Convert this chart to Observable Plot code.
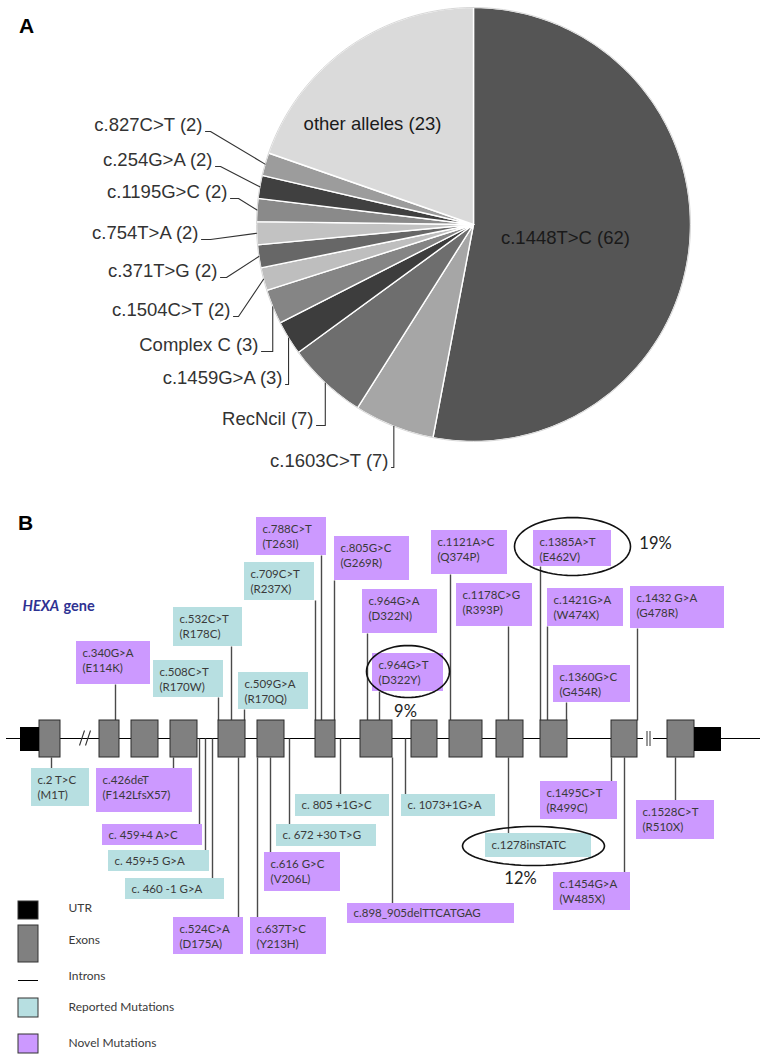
<!DOCTYPE html>
<html><head><meta charset="utf-8">
<script src="https://cdn.jsdelivr.net/npm/d3@7"></script>
<script src="https://cdn.jsdelivr.net/npm/@observablehq/plot@0.6"></script>
<style>body{margin:0;background:#fff} #chart svg{display:block}</style>
</head><body><div id="chart"></div>
<script>
// ---------------- Panel A data ----------------
const alleles = ["c.1448T>C", "c.1603C>T", "RecNcil", "c.1459G>A", "Complex C", "c.1504C>T",
  "c.371T>G", "c.754T>A", "c.1195G>C", "c.254G>A", "c.827C>T", "other alleles"];
const alleleCounts = [62, 7, 7, 3, 3, 2, 2, 2, 2, 2, 2, 23];
const sliceShades = ["#555555", "#a6a6a6", "#6e6e6e", "#3d3d3d", "#858585", "#bebebe",
  "#676767", "#c2c2c2", "#8a8a8a", "#404040", "#9c9c9c", "#dadada"];

// ---------------- Panel B data ----------------
const exonNumbers = [1, 2, 3, 4, 5, 6, 7, 8, 9, 10, 11, 12, 13, 14];
const mutCodes = ["c.340G>A", "c.508C>T", "c.532C>T", "c.509G>A", "c.709C>T", "c.788C>T", "c.805G>C",
  "c.964G>A", "c.964G>T", "c.1121A>C", "c.1178C>G", "c.1385A>T", "c.1421G>A", "c.1432 G>A", "c.1360G>C",
  "c.2 T>C", "c.426deT", "c. 459+4 A>C", "c. 459+5 G>A", "c. 460 -1 G>A", "c.524C>A", "c.637T>C",
  "c.616 G>C", "c. 672 +30 T>G", "c. 805 +1G>C", "c.898_905delTTCATGAG", "c. 1073+1G>A",
  "c.1278insTATC", "c.1495C>T", "c.1454G>A", "c.1528C>T"];
const mutProteins = ["(E114K)", "(R170W)", "(R178C)", "(R170Q)", "(R237X)", "(T263I)", "(G269R)",
  "(D322N)", "(D322Y)", "(Q374P)", "(R393P)", "(E462V)", "(W474X)", "(G478R)", "(G454R)",
  "(M1T)", "(F142LfsX57)", "", "", "", "(D175A)", "(Y213H)",
  "(V206L)", "", "", "", "", "", "(R499C)", "(W485X)", "(R510X)"];
const mutKinds = ["novel", "reported", "reported", "reported", "reported", "novel", "novel",
  "novel", "novel", "novel", "novel", "novel", "novel", "novel", "novel",
  "reported", "novel", "novel", "reported", "reported", "novel", "novel",
  "novel", "reported", "reported", "novel", "reported", "reported", "novel", "novel", "novel"];
const hotspotCodes = ["c.964G>T", "c.1385A>T", "c.1278insTATC"];
const hotspotShares = ["9%", "19%", "12%"];
const legendLabels = ["UTR", "Exons", "Introns", "Reported Mutations", "Novel Mutations"];

// ---------------- Layout (positions, sizes, styles) ----------------
const W = 762, H = 1059;
const PIE = {cx: 473, cy: 224, r: 217};
// [text right x, text centre y, elbow x (null = vertical to slice)]
const pieLabelLayout = [null, [388, 461, null], [313, 419, null], [282, 378, null], [258, 345, null],
  [230, 310, 238], [217, 271, 226], [198, 233, 210], [227, 192, 238], [212, 160, 220], [202, 125, 210], null];
const pieInnerLabelLayout = {0: [565, 238], 11: [372, 124]};

const GENE = {y: 738, top: 720, bottom: 757, x0: 6, x1: 760};
const exonSpans = [[39, 60], [99, 119], [131, 158], [170, 197], [218, 245], [257, 284], [315, 335],
  [360, 392], [411, 437], [449, 482], [496, 523], [540, 567], [611, 637], [667, 694]];
const utrSpans = [[20, 39], [694, 721]];
// [x1, y1, x2, y2, stem x]
const mutLayout = [
  [76, 641, 150, 684, 115], [153, 660, 223, 697, 218], [173, 607, 242, 646, 231], [238, 672, 308, 709, 244],
  [244, 562, 314, 600, 315], [256, 517, 326, 555, 321], [334, 536, 409, 580, 334], [362, 589, 437, 633, 367],
  [372, 653, 443, 691, 379], [431, 530, 507, 574, 450], [456, 583, 532, 626, 508], [533, 530, 611, 566, 540],
  [547, 588, 623, 626, 547], [630, 586, 724, 628, 637], [553, 665, 630, 702, 566],
  [31, 768, 89, 806, 51], [96, 768, 192, 812, 173], [102, 824, 202, 845, 199], [108, 850, 209, 871, 205],
  [125, 878, 224, 899, 212], [173, 917, 243, 954, 238], [250, 917, 326, 954, 257], [264, 852, 340, 891, 270],
  [276, 824, 376, 846, 289], [295, 794, 389, 816, 340], [347, 903, 514, 923, 392], [401, 794, 495, 816, 405],
  [485, 833, 591, 857, 508], [540, 781, 617, 819, 611], [553, 872, 630, 910, 624], [636, 800, 714, 839, 675]];
// [ellipse cx, cy, rx, ry, share label x, y]
const hotspotLayout = [[407.5, 671, 41.5, 26, 405, 711], [572, 546, 58, 29, 655, 543], [533, 845.5, 71, 19.5, 520, 878]];
const legendLayout = [[901, 919, 908], [925, 962, 940], [980, 980, 976], [998, 1017, 1007], [1034, 1053, 1043]];

const CYAN = "#b7dfe1", PURPLE = "#cc99ff", EXON = "#808080", TEXT = "#3a3a3a";
const BOXFONT = "Lato, 'Open Sans', sans-serif";
const PIEFONT = "'Liberation Sans', Arial, sans-serif";

// ---------------- Derived geometry ----------------
const total = d3.sum(alleleCounts);
const polar = a => ({x: PIE.cx + PIE.r * Math.sin(a), y: PIE.cy - PIE.r * Math.cos(a)});
let cum = 0;
const slices = alleles.map((name, i) => {
  const a0 = cum / total * 2 * Math.PI; cum += alleleCounts[i];
  const a1 = cum / total * 2 * Math.PI;
  const n = Math.max(2, Math.ceil((a1 - a0) / (Math.PI / 180)));
  const pts = [{x: PIE.cx, y: PIE.cy}];
  for (let k = 0; k <= n; k++) pts.push(polar(a0 + (a1 - a0) * k / n));
  pts.push({x: PIE.cx, y: PIE.cy});
  return {name, count: alleleCounts[i], a0, a1, mid: (a0 + a1) / 2, fill: sliceShades[i], pts};
});
const outerLabels = [], leaders = [];
slices.forEach((s, i) => {
  const L = pieLabelLayout[i];
  if (!L) return;
  const [rx, cy, ex] = L;
  const end = polar(s.mid);
  const by = cy + 6;
  outerLabels.push({x: rx, y: cy, text: `${s.name} (${s.count})`});
  const elbowX = ex == null ? end.x : ex;
  leaders.push({id: i, x: rx + 3, y: by}, {id: i, x: elbowX, y: by}, {id: i, x: end.x, y: end.y});
});
const innerLabels = Object.entries(pieInnerLabelLayout).map(([i, [x, y]]) =>
  ({x, y, text: `${slices[i].name} (${slices[i].count})`}));

const exons = exonNumbers.map((n, i) => ({n, x1: exonSpans[i][0], x2: exonSpans[i][1]}));
const inExon = x => exons.some(e => x >= e.x1 && x <= e.x2);
const muts = mutCodes.map((code, i) => {
  const [x1, y1, x2, y2, sx] = mutLayout[i];
  const above = y2 < GENE.y;
  const anchor = inExon(sx) ? (above ? GENE.top : GENE.bottom) : GENE.y;
  return {code, protein: mutProteins[i], kind: mutKinds[i], x1, y1, x2, y2, sx,
    sy1: above ? y2 : anchor, sy2: above ? anchor : y1};
});
const ellipses = [], shares = [];
hotspotCodes.forEach((c, i) => {
  const [ex, ey, erx, ery, lx, ly] = hotspotLayout[i];
  for (let k = 0; k <= 72; k++) {
    const t = k / 72 * 2 * Math.PI;
    ellipses.push({id: i, x: ex + erx * Math.cos(t), y: ey + ery * Math.sin(t)});
  }
  shares.push({x: lx, y: ly, text: hotspotShares[i]});
});

const line1 = d => d.protein ? d.y1 + 12 : (d.y1 + d.y2) / 2;

// ---------------- Plot ----------------
const marks = [];
// Panel A
slices.forEach(s => marks.push(Plot.line(s.pts, {x: "x", y: "y", fill: s.fill, stroke: "#fff", strokeWidth: 1.4, strokeLinejoin: "round"})));
marks.push(Plot.line(d3.range(0, 361, 2).map(a => polar(a * Math.PI / 180)), {x: "x", y: "y", stroke: "#d8d8d8", strokeWidth: 1}));
marks.push(Plot.line(leaders, {x: "x", y: "y", z: "id", stroke: "#333", strokeWidth: 1.1}));
marks.push(Plot.text(outerLabels, {x: "x", y: "y", text: "text", textAnchor: "end", fontSize: 18.5, fontFamily: PIEFONT, fill: "#333"}));
marks.push(Plot.text(innerLabels, {x: "x", y: "y", text: "text", textAnchor: "middle", fontSize: 18.5, fontFamily: PIEFONT, fill: "#1a1a1a"}));
marks.push(Plot.text(["A"], {x: 26, y: 26, text: d => d, fontSize: 21, fontWeight: "bold", fontFamily: "'Liberation Sans', Arial", fill: "#000"}));
// Panel B
marks.push(Plot.text(["B"], {x: 25, y: 523, text: d => d, fontSize: 21, fontWeight: "bold", fontFamily: "'Liberation Sans', Arial", fill: "#000"}));
marks.push(Plot.text(["HEXA"], {x: 22, y: 606, text: d => d, textAnchor: "start", fontSize: 14.5, fontWeight: "bold", fontStyle: "italic", fontFamily: BOXFONT, fill: "#2e3192"}));
marks.push(Plot.text(["gene"], {x: 63, y: 606, text: d => d, textAnchor: "start", fontSize: 14.5, fontWeight: "bold", fontFamily: BOXFONT, fill: "#2e3192"}));
marks.push(Plot.ruleY([GENE.y], {x1: GENE.x0, x2: GENE.x1, stroke: "#000", strokeWidth: 1.2}));
// break marks
marks.push(Plot.link([{x1: 79, y1: 745, x2: 84, y2: 730}, {x1: 85, y1: 745, x2: 90, y2: 730}], {x1: "x1", y1: "y1", x2: "x2", y2: "y2", stroke: "#333", strokeWidth: 1.1}));
marks.push(Plot.rect([{x1: 643, x2: 653}], {x1: "x1", x2: "x2", y1: 730, y2: 746, fill: "#fff"}));
marks.push(Plot.ruleX([646.5, 649.5], {y1: 731, y2: 746, stroke: "#333", strokeWidth: 1}));
// stems
marks.push(Plot.link(muts, {x1: "sx", x2: "sx", y1: "sy1", y2: "sy2", stroke: "#4a4a4a", strokeWidth: 1.4}));
// exons and UTRs
marks.push(Plot.rect(exons, {x1: "x1", x2: "x2", y1: GENE.top, y2: GENE.bottom, fill: EXON, stroke: "#2a2a2a", strokeWidth: 1}));
marks.push(Plot.rect(utrSpans.map(([a, b]) => ({x1: a, x2: b})), {x1: "x1", x2: "x2", y1: 727, y2: 751, fill: "#000"}));
// mutation boxes
marks.push(Plot.rect(muts.filter(d => d.kind === "reported"), {x1: "x1", x2: "x2", y1: "y1", y2: "y2", fill: CYAN}));
marks.push(Plot.rect(muts.filter(d => d.kind === "novel"), {x1: "x1", x2: "x2", y1: "y1", y2: "y2", fill: PURPLE}));
marks.push(Plot.text(muts, {x: d => d.x1 + 6, y: line1, text: "code", textAnchor: "start", fontSize: 11.5, fontFamily: BOXFONT, fill: TEXT}));
marks.push(Plot.text(muts.filter(d => d.protein), {x: d => d.x1 + 6, y: d => d.y1 + 27, text: "protein", textAnchor: "start", fontSize: 11.5, fontFamily: BOXFONT, fill: TEXT}));
// hotspot ellipses
marks.push(Plot.line(ellipses, {x: "x", y: "y", z: "id", stroke: "#111", strokeWidth: 1.6}));
marks.push(Plot.text(shares, {x: "x", y: "y", text: "text", fontSize: 16.5, fontFamily: BOXFONT, fill: "#222"}));
// legend
const legendRows = legendLabels.map((label, i) => ({label, y1: legendLayout[i][0], y2: legendLayout[i][1], ty: legendLayout[i][2]}));
const legendFill = {"UTR": "#000", "Exons": EXON, "Reported Mutations": CYAN, "Novel Mutations": PURPLE};
legendRows.filter(d => d.label !== "Introns").forEach(d =>
  marks.push(Plot.rect([d], {x1: 18, x2: 38, y1: "y1", y2: "y2", fill: legendFill[d.label], stroke: "#333", strokeWidth: 1})));
marks.push(Plot.ruleY(legendRows.filter(d => d.label === "Introns"), {y: "y1", x1: 18, x2: 38, stroke: "#000", strokeWidth: 1}));
marks.push(Plot.text(legendRows, {x: 68, y: "ty", text: "label", textAnchor: "start", fontSize: 12, fontFamily: BOXFONT, fill: TEXT}));

const chart = Plot.plot({
  width: W, height: H,
  marginTop: 0, marginRight: 0, marginBottom: 0, marginLeft: 0,
  x: {domain: [0, W], range: [0, W], axis: null},
  y: {domain: [0, H], range: [0, H], axis: null},
  style: {background: "#fff", overflow: "visible"},
  marks
});
document.getElementById("chart").append(chart);
</script>
</body></html>
